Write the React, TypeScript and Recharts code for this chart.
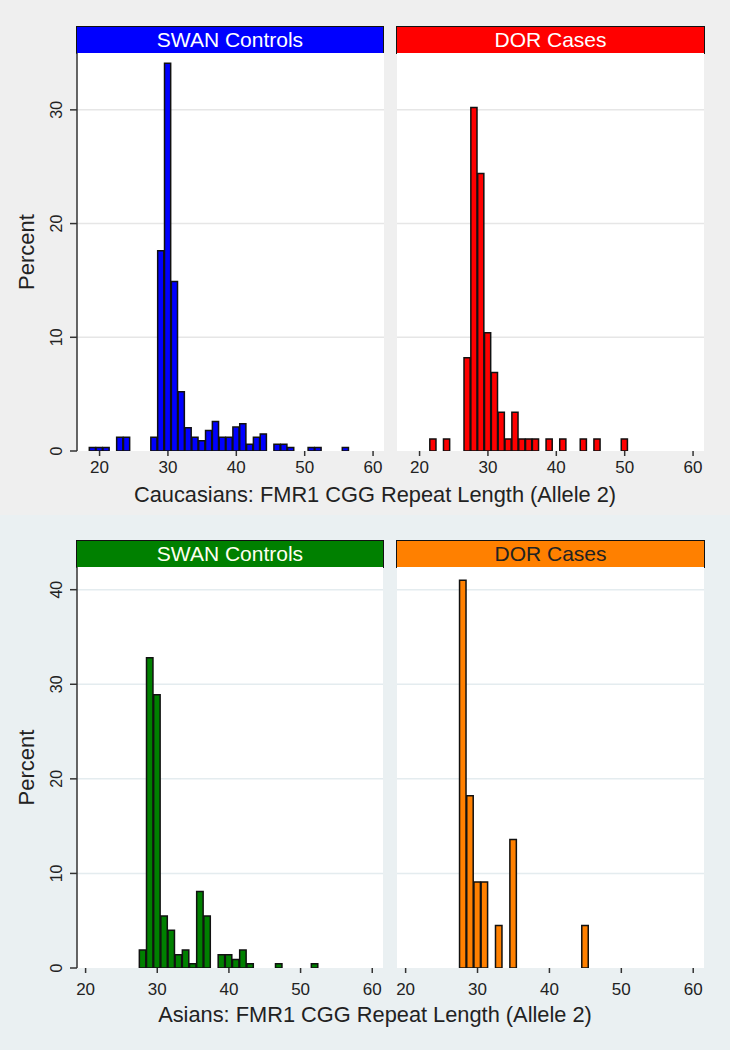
import React from "react";
import { BarChart, Bar, XAxis, YAxis, CartesianGrid } from "recharts";

const FONT = "'Liberation Sans', Arial, Helvetica, sans-serif";

// repeat length (x) and percent (y) per bin
const cauControlLen = [19, 20, 21, 23, 24, 28, 29, 30, 31, 32, 33, 34, 35, 36, 37, 38, 39, 40, 41, 42, 43, 44, 46, 47, 48, 51, 52, 56];
const cauControlPct = [0.3, 0.3, 0.3, 1.2, 1.2, 1.2, 17.6, 34.1, 14.9, 5.2, 2.05, 1.2, 0.9, 1.8, 2.6, 1.2, 1.2, 2.1, 2.4, 0.6, 1.2, 1.5, 0.6, 0.6, 0.3, 0.3, 0.3, 0.3];

const cauCaseLen = [22, 24, 27, 28, 29, 30, 31, 32, 33, 34, 35, 36, 37, 39, 41, 44, 46, 50];
const cauCasePct = [1.06, 1.06, 8.2, 30.2, 24.4, 10.4, 6.9, 3.4, 1.06, 3.4, 1.06, 1.06, 1.06, 1.06, 1.06, 1.06, 1.06, 1.06];

const asiControlLen = [28, 29, 30, 31, 32, 33, 34, 35, 36, 37, 39, 40, 41, 42, 43, 47, 52];
const asiControlPct = [1.9, 32.8, 28.9, 5.5, 4.0, 1.4, 1.9, 0.45, 8.1, 5.5, 1.4, 1.4, 0.9, 1.9, 0.45, 0.45, 0.45];

const asiCaseLen = [28, 29, 30, 31, 33, 35, 45];
const asiCasePct = [41.0, 18.2, 9.1, 9.1, 4.5, 13.6, 4.5];

const xTicks = [20, 30, 40, 50, 60];
const cauYTicks = [0, 10, 20, 30];
const asiYTicks = [0, 10, 20, 30, 40];

const toRows = (len: number[], pct: number[]) => len.map((l, i) => ({ len: l, pct: pct[i] }));

const RotTick = (props: any) => {
  const { x, y, payload } = props;
  const bx = x - 6;
  return (
    <text x={bx} y={y} transform={`rotate(-90, ${bx}, ${y})`} textAnchor="middle" fontSize={16} fill="#222" fontFamily={FONT}>
      {payload.value}
    </text>
  );
};

const PercentLabel = (props: any) => {
  const vb = props.viewBox || { y: 0, height: 0 };
  const cy = vb.y + vb.height / 2;
  return (
    <text x={34} y={cy} transform={`rotate(-90, 34, ${cy})`} textAnchor="middle" fontSize={22} fill="#222" fontFamily={FONT}>
      Percent
    </text>
  );
};

type PanelProps = {
  rows: { len: number; pct: number }[];
  color: string;
  left: number;
  top: number;
  plotW: number;
  plotH: number;
  xDomain: [number, number];
  yDomain: [number, number];
  yTicks: number[];
  withY: boolean;
  tickGap: number;
  grid: string;
};

function Panel(p: PanelProps) {
  const yw = p.withY ? 77 : 0;
  const padL = p.withY ? 0 : 20;
  const barW = p.plotW / (p.xDomain[1] - p.xDomain[0]);
  return (
    <div style={{ position: "absolute", left: p.left - yw - padL, top: p.top }}>
      <BarChart
        width={yw + padL + p.plotW + 12}
        height={p.plotH + 40}
        data={p.rows}
        margin={{ top: 0, right: 12, bottom: 0, left: padL }}
      >
        <CartesianGrid vertical={false} fill="#ffffff" fillOpacity={1} stroke={p.grid} strokeWidth={1.5} horizontalValues={p.yTicks.slice(1)} />
        <XAxis
          type="number"
          dataKey="len"
          domain={p.xDomain}
          allowDataOverflow
          ticks={xTicks}
          interval={0}
          axisLine={false}
          tickSize={5}
          tickMargin={p.tickGap}
          tickLine={{ stroke: "#333", strokeWidth: 1.5 }}
          tick={{ fontSize: 17, fill: "#222", fontFamily: FONT }}
          height={40}
        />
        <YAxis
          hide={!p.withY}
          type="number"
          domain={p.yDomain}
          allowDataOverflow
          ticks={p.yTicks}
          interval={0}
          width={yw}
          axisLine={{ stroke: "#333", strokeWidth: 1.5 }}
          tickLine={{ stroke: "#333", strokeWidth: 1.5 }}
          tickSize={7}
          tick={<RotTick />}
          label={{ content: <PercentLabel /> }}
        />
        <Bar dataKey="pct" fill={p.color} stroke="#111" strokeWidth={1.5} barSize={barW} isAnimationActive={false} />
      </BarChart>
    </div>
  );
}

function Header(props: { left: number; top: number; width: number; color: string; text: string; textColor: string }) {
  return (
    <div
      style={{
        position: "absolute",
        left: props.left,
        top: props.top,
        width: props.width,
        height: 28,
        boxSizing: "border-box",
        border: "1.5px solid #111",
        background: props.color,
        color: props.textColor,
        fontFamily: FONT,
        fontSize: 21,
        lineHeight: "25px",
        textAlign: "center",
      }}
    >
      {props.text}
    </div>
  );
}

function Title(props: { top: number; text: string }) {
  return (
    <div
      style={{
        position: "absolute",
        left: 0,
        top: props.top,
        width: 750,
        textAlign: "center",
        fontFamily: FONT,
        fontSize: 21.8,
        color: "#222",
        lineHeight: "24px",
      }}
    >
      {props.text}
    </div>
  );
}

export default function App() {
  return (
    <div style={{ position: "absolute", left: 0, top: 0, width: 730, height: 1050, overflow: "hidden", fontFamily: FONT }}>
      <div style={{ position: "absolute", left: 0, top: 0, width: 730, height: 515, background: "#efefef" }} />
      <div style={{ position: "absolute", left: 0, top: 515, width: 730, height: 535, background: "#eaf0f2" }} />

      <Header left={76} top={26} width={308} color="#0000ff" text="SWAN Controls" textColor="#ffffff" />
      <Header left={396} top={26} width={309} color="#ff0000" text="DOR Cases" textColor="#ffffff" />
      <Header left={76} top={540} width={308} color="#008000" text="SWAN Controls" textColor="#fffff0" />
      <Header left={396} top={540} width={309} color="#ff8000" text="DOR Cases" textColor="#222222" />

      <Panel rows={toRows(cauControlLen, cauControlPct)} color="#0000ff" left={77} top={53} plotW={307} plotH={398}
        xDomain={[16.7, 61.6]} yDomain={[0, 35]} yTicks={cauYTicks} withY tickGap={5} grid="#e6e6e6" />
      <Panel rows={toRows(cauCaseLen, cauCasePct)} color="#ff0000" left={397} top={53} plotW={307} plotH={398}
        xDomain={[16.7, 61.6]} yDomain={[0, 35]} yTicks={cauYTicks} withY={false} tickGap={5} grid="#e6e6e6" />
      <Panel rows={toRows(asiControlLen, asiControlPct)} color="#008000" left={77} top={567} plotW={306} plotH={401}
        xDomain={[18.8, 61.5]} yDomain={[0, 42.4]} yTicks={asiYTicks} withY tickGap={10} grid="#e4ecef" />
      <Panel rows={toRows(asiCaseLen, asiCasePct)} color="#ff8000" left={397} top={567} plotW={307} plotH={401}
        xDomain={[18.8, 61.5]} yDomain={[0, 42.4]} yTicks={asiYTicks} withY={false} tickGap={10} grid="#e4ecef" />

      <Title top={483} text="Caucasians: FMR1 CGG Repeat Length (Allele 2)" />
      <Title top={1003} text="Asians: FMR1 CGG Repeat Length (Allele 2)" />
    </div>
  );
}
